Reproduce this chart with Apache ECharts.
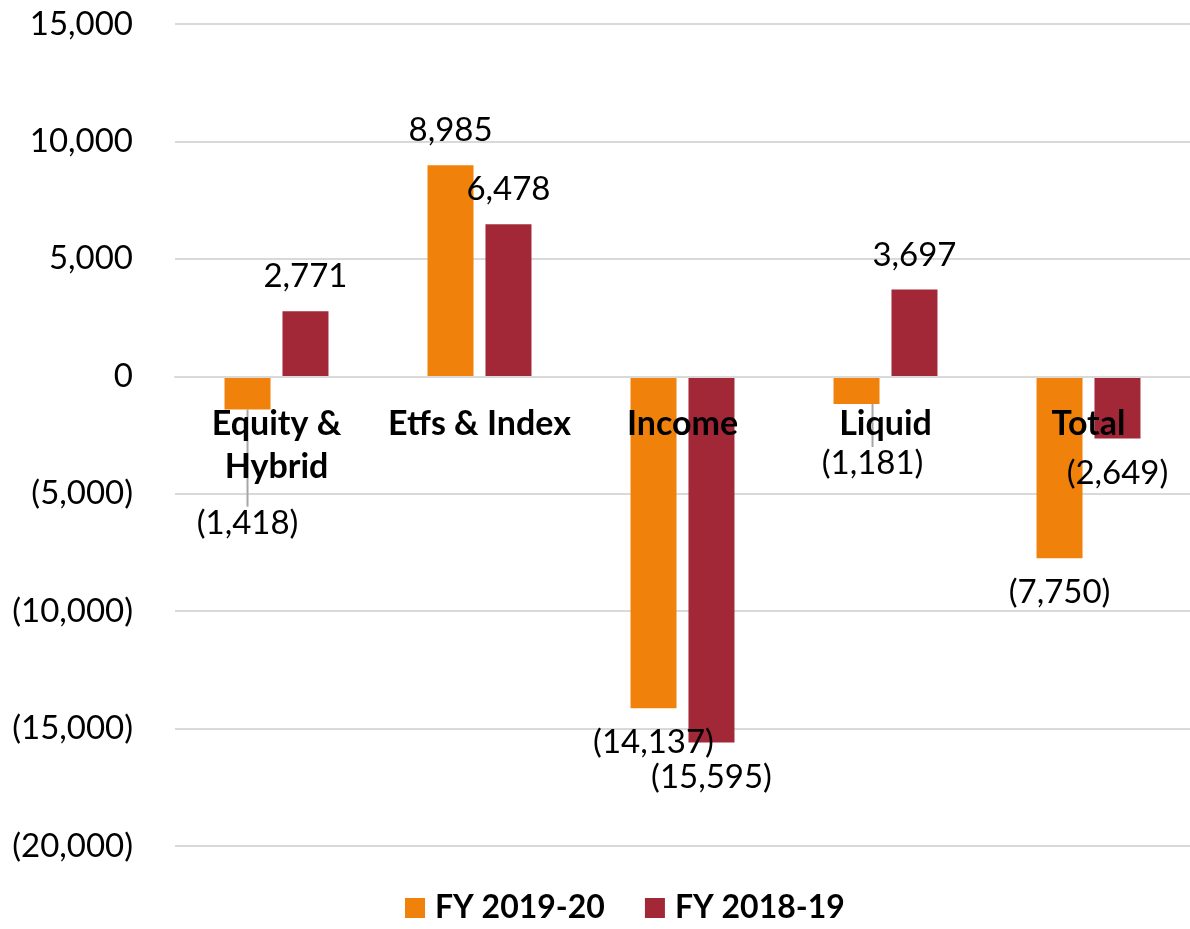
<!DOCTYPE html>
<html>
<head>
<meta charset="utf-8">
<script src="https://cdn.jsdelivr.net/npm/echarts@6/dist/echarts.min.js"></script>
<style>
  html, body { margin: 0; padding: 0; background: #fff; }
  #chart { width: 1190px; height: 929px; }
</style>
</head>
<body>
<div id="chart"></div>
<script>
// categories and values
const categories = ["Equity &\nHybrid", "Etfs & Index", "Income", "Liquid", "Total"];
const fy2019_20 = [-1418, 8985, -14137, -1181, -7750];
const fy2018_19 = [2771, 6478, -15595, 3697, -2649];
const seriesNames = ["FY 2019-20", "FY 2018-19"];
const yMin = -20000;
const yMax = 15000;
const yStep = 5000;

const font = "Lato";
const H = 929;
const gridTop = 24;
const gridBottom = 83;
// category axis sits on the zero line
const zeroOffset = -(H - gridTop - gridBottom) * (0 - yMin) / (yMax - yMin);

// excel style number: 1,234 and (1,234) for negatives
function fmt(v) {
  const s = Math.abs(v).toLocaleString("en-US");
  return v < 0 ? "(" + s + ")" : s;
}

// labels that were nudged away from their bars in the original
const moved = {
  "0-0": { dx: 0, dy: 79 },
  "0-3": { dx: 16, dy: 25 },
};

function barData(values, si) {
  return values.map((v, i) => {
    const item = {
      value: v,
      label: { position: v < 0 ? "bottom" : "top" },
    };
    if (moved[si + "-" + i]) {
      item.labelLine = { show: true, lineStyle: { color: "#a6a6a6", width: 2 } };
    }
    return item;
  });
}

const labelStyle = {
  show: true,
  distance: 18,
  fontFamily: font,
  fontSize: 33,
  color: "#000",
  formatter: (p) => fmt(p.value),
};

var myChart = echarts.init(document.getElementById("chart"));

var option = {
  animation: false,
  grid: {
    left: 175,
    right: 0,
    top: gridTop,
    bottom: gridBottom,
    outerBoundsMode: "none",
  },
  legend: {
    bottom: 0,
    left: 400,
    icon: "rect",
    itemWidth: 20,
    itemHeight: 20,
    itemGap: 40,
    textStyle: {
      fontFamily: font,
      fontWeight: "bold",
      fontSize: 32,
      color: "#000",
      padding: [0, 0, 0, 5],
    },
    data: seriesNames,
  },
  xAxis: {
    type: "category",
    data: categories,
    position: "bottom",
    offset: zeroOffset,
    z: 10,
    axisLine: {
      onZero: false,
      lineStyle: { color: "#d9d9d9", width: 2 },
    },
    axisTick: { show: false },
    axisLabel: {
      interval: 0,
      margin: 26,
      fontFamily: font,
      fontWeight: "bold",
      fontSize: 34,
      lineHeight: 43,
      color: "#000",
      verticalAlign: "top",
    },
  },
  yAxis: {
    type: "value",
    min: yMin,
    max: yMax,
    interval: yStep,
    axisLine: { show: false },
    axisTick: { show: false },
    splitLine: { lineStyle: { color: "#d9d9d9", width: 2 } },
    axisLabel: {
      margin: 42,
      fontFamily: font,
      fontSize: 33,
      color: "#000",
      formatter: fmt,
    },
  },
  series: [
    {
      name: seriesNames[0],
      type: "bar",
      barWidth: 46,
      barGap: "26%",
      itemStyle: { color: "#F0820C" },
      label: labelStyle,
      labelLine: { show: false },
      labelLayout: (p) => moved[p.seriesIndex + "-" + p.dataIndex] || {},
      data: barData(fy2019_20, 0),
    },
    {
      name: seriesNames[1],
      type: "bar",
      barWidth: 46,
      itemStyle: { color: "#A22838" },
      label: labelStyle,
      labelLine: { show: false },
      data: barData(fy2018_19, 1),
    },
  ],
};

myChart.setOption(option);
</script>
</body>
</html>
